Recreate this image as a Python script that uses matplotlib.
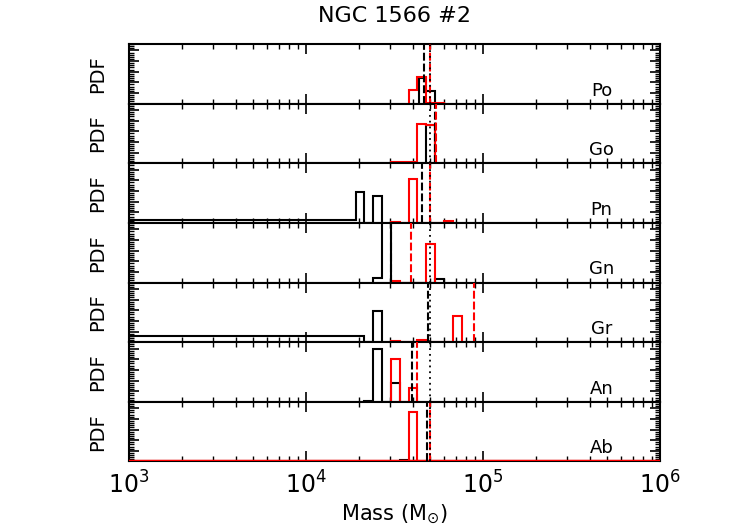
import numpy as np
import matplotlib.pyplot as plt
from matplotlib.ticker import MultipleLocator, LogLocator, NullFormatter, FixedLocator

labels = ["Po", "Go", "Pn", "Gn", "Gr", "An", "Ab"]

# histogram bin edges in log10(M/Msun) and PDF heights (arbitrary units)
black_edges = [
    [4.64, 4.68, 4.73],
    [4.68, 4.73],
    [3.0, 4.28, 4.33, 4.38, 4.43],
    [4.38, 4.43, 4.48, 4.73, 4.78],
    [3.0, 4.33, 4.38, 4.43],
    [4.33, 4.38, 4.43, 4.48, 4.53],
    [4.53, 4.58],
]
black_vals = [
    [2.45, 1.17],
    [3.62],
    [0.31, 2.91, 0.0, 2.54],
    [0.47, 9.0, 0.0, 0.38],
    [0.56, 0.0, 2.89],
    [0.1, 4.92, 0.0, 1.76],
    [0.1],
]
red_edges = [
    [4.58, 4.63, 4.68, 4.78],
    [4.48, 4.63, 4.68, 4.73],
    [4.48, 4.53, 4.58, 4.63, 4.78, 4.83],
    [4.48, 4.53, 4.68, 4.73],
    [4.48, 4.53, 4.63, 4.68, 4.83, 4.88],
    [4.48, 4.53, 4.58, 4.63],
    [4.58, 4.63],
]
red_vals = [
    [1.26, 2.54, 0.1],
    [0.15, 3.72, 3.55],
    [0.1, 0.0, 4.13, 0.0, 0.2],
    [0.1, 0.0, 3.6],
    [0.08, 0.0, 0.19, 0.0, 2.42],
    [4.01, 0.0, 1.29],
    [4.6],
]

# vertical markers, log10(M)
black_dash = [4.666, 4.728, 4.656, 4.478, 4.69, 4.600, 4.684]
red_dash = [4.703, 4.733, 4.703, 4.594, 4.948, 4.628, 4.703]
dotted_mass = 4.703

xticks = [1e3, 1e4, 1e5, 1e6]
xticklabels = [r"$10^{3}$", r"$10^{4}$", r"$10^{5}$", r"$10^{6}$"]

fig = plt.figure(figsize=(7.39, 5.28), dpi=100)
gs = fig.add_gridspec(len(labels), 1, left=0.1746, right=0.893,
                      top=0.9167, bottom=0.126, hspace=0)
axes = [fig.add_subplot(gs[i, 0]) for i in range(len(labels))]

for i, ax in enumerate(axes):
    ax.stairs(black_vals[i], 10 ** np.array(black_edges[i]), color="black", lw=1.5, zorder=3)
    ax.stairs(red_vals[i], 10 ** np.array(red_edges[i]), color="red", lw=1.5, zorder=4)
    if labels[i] == "Ab":
        ax.axhline(0, color="red", lw=2.5, zorder=5)
    ax.axvline(10 ** black_dash[i], color="black", lw=1.5, dashes=(3.8, 1.4), zorder=5)
    ax.axvline(10 ** red_dash[i], color="red", lw=1.5, dashes=(3.8, 1.4), zorder=5)
    ax.axvline(10 ** dotted_mass, color="black", lw=1.3, dashes=(1, 2.2), zorder=6)

    ax.set_xscale("log")
    ax.set_xlim(1e3, 1e6)
    ax.set_ylim(0, 5.6)
    ax.xaxis.set_major_locator(FixedLocator(xticks))
    ax.xaxis.set_minor_locator(LogLocator(base=10, subs=np.arange(2, 10)))
    ax.xaxis.set_minor_formatter(NullFormatter())
    ax.yaxis.set_major_locator(MultipleLocator(1))
    ax.yaxis.set_minor_locator(MultipleLocator(0.2))
    ax.tick_params(which="both", direction="in", top=True, right=True, labelleft=False)
    ax.tick_params(which="major", length=7, width=1.2)
    ax.tick_params(which="minor", length=3.5, width=1.0)
    for s in ax.spines.values():
        s.set_linewidth(1.5)
    ax.set_ylabel("PDF", fontsize=14, labelpad=16)
    ax.text(0.89, 0.22, labels[i], transform=ax.transAxes, fontsize=13,
            ha="center", va="center", zorder=7)
    if i < len(labels) - 1:
        ax.tick_params(labelbottom=False)
    else:
        ax.set_xticklabels(xticklabels, fontsize=17)
        ax.tick_params(axis="x", pad=7)
        ax.set_xlabel(r"Mass (M$_{\odot}$)", fontsize=15, labelpad=3)

axes[0].set_title("NGC 1566 #2", fontsize=16, pad=16)

fig.savefig("out.png", dpi=100)
